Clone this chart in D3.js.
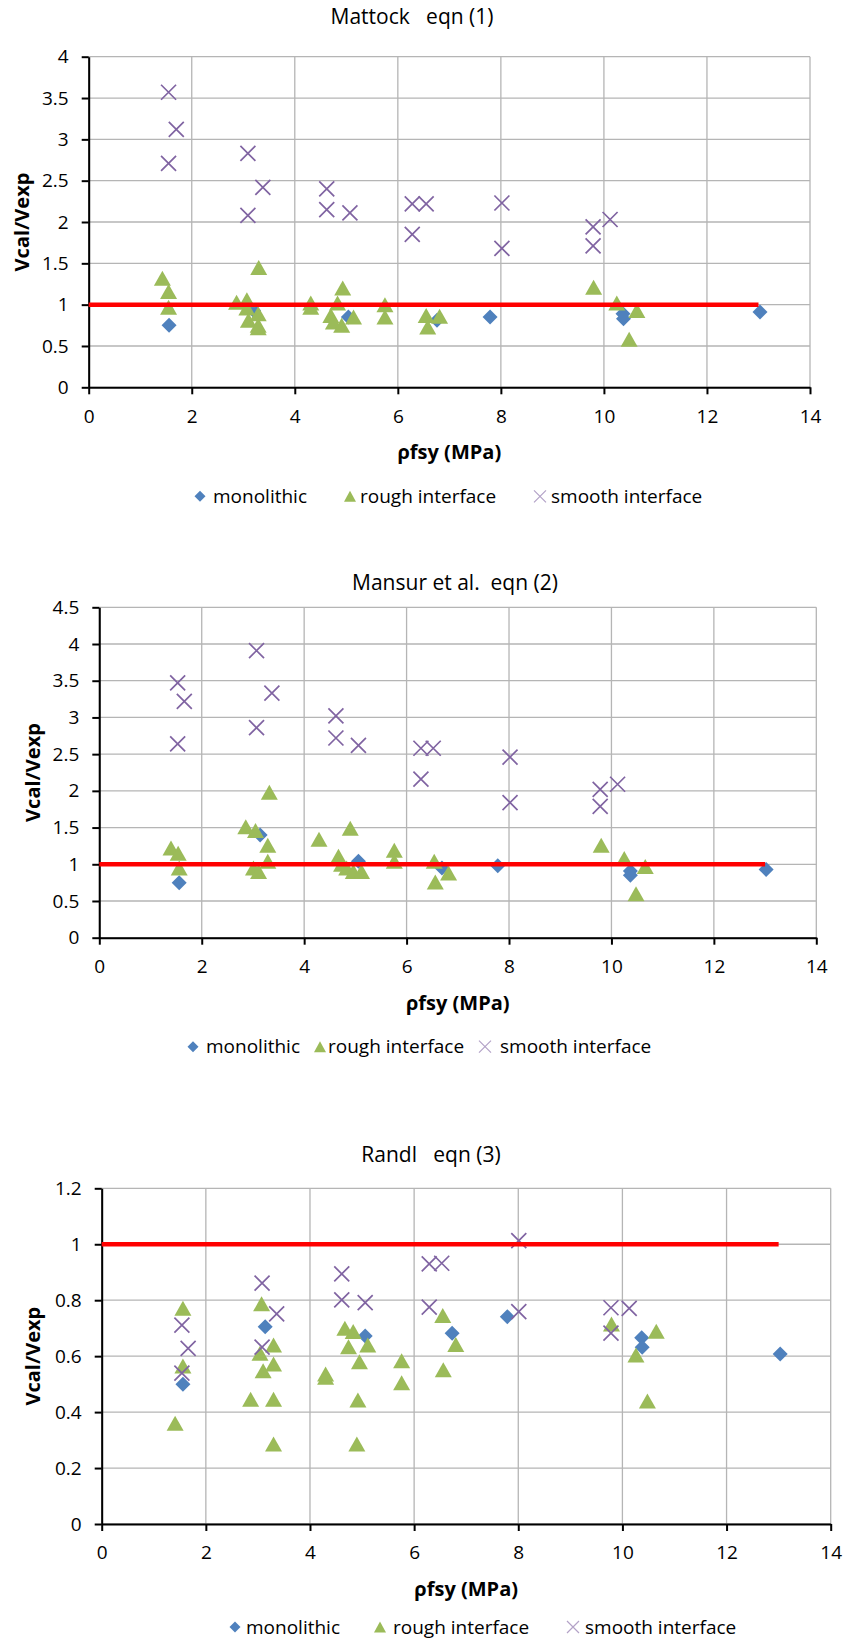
<!DOCTYPE html>
<html>
<head>
<meta charset="utf-8">
<script src="https://cdn.jsdelivr.net/npm/d3@7"></script>
<style>
body { margin: 0; background: #fff; }
svg text { font-family: "Open Sans", sans-serif; fill: #000; }
.axis path, .axis line { stroke: #000; stroke-width: 2; }
.axis text { font-size: 19px; }
</style>
</head>
<body>
<div id="chart"></div>
<script>
// shared
var xTicks = [0, 2, 4, 6, 8, 10, 12, 14];
var legendLabels = ['monolithic', 'rough interface', 'smooth interface'];
var xTitle = 'ρfsy (MPa)';
var yTitle = 'Vcal/Vexp';
var refLine = [[0, 1], [13, 1]];

// Mattock eqn (1)
var mattockTitle = 'Mattock   eqn (1)';
var mattockYTicks = [0, 0.5, 1, 1.5, 2, 2.5, 3, 3.5, 4];
var mattockMono = [[1.56,0.75],[3.2,0.93],[5.04,0.85],[6.76,0.81],[7.79,0.85],[10.37,0.89],[10.38,0.83],[13.03,0.91]];
var mattockRough = [[1.43,1.32],[1.55,1.16],[1.55,0.97],[2.87,1.03],[3.07,1.06],[3.07,0.96],[3.10,0.81],[3.29,0.89],
  [3.29,0.75],[3.29,0.72],[3.30,1.45],[4.31,1.02],[4.31,0.97],[4.93,1.20],[4.83,1.02],[4.70,0.87],[4.75,0.79],
  [4.91,0.75],[5.14,0.85],[5.75,1.00],[5.75,0.85],[6.55,0.87],[6.58,0.73],[6.81,0.86],[9.80,1.21],[10.25,1.02],
  [10.64,0.93],[10.49,0.58]];
var mattockSmooth = [[1.55,3.57],[1.70,3.12],[1.55,2.71],[3.09,2.83],[3.09,2.08],[3.38,2.42],[4.62,2.40],[4.62,2.15],
  [5.07,2.11],[6.28,2.22],[6.55,2.22],[6.28,1.85],[8.02,2.23],[8.02,1.68],[9.79,1.94],[9.79,1.71],[10.12,2.03]];

// Mansur et al. eqn (2)
var mansurTitle = 'Mansur et al.  eqn (2)';
var mansurYTicks = [0, 0.5, 1, 1.5, 2, 2.5, 3, 3.5, 4, 4.5];
var mansurMono = [[1.56,0.75],[3.14,1.40],[5.06,1.04],[6.69,0.95],[7.78,0.98],[10.37,0.91],[10.37,0.85],[13.02,0.93]];
var mansurRough = [[1.40,1.22],[1.54,1.15],[1.56,0.95],[2.86,1.51],[3.05,1.46],[3.01,0.95],[3.11,0.90],[3.32,1.98],
  [3.29,1.26],[3.29,1.04],[4.29,1.34],[4.90,1.49],[4.67,1.11],[4.73,1.00],[4.83,0.95],[4.96,0.90],[5.12,0.90],
  [5.76,1.19],[5.76,1.04],[6.54,1.04],[6.56,0.76],[6.82,0.88],[9.80,1.26],[10.25,1.08],[10.66,0.97],[10.48,0.60]];
var mansurSmooth = [[1.53,3.47],[1.66,3.22],[1.53,2.64],[3.07,3.91],[3.07,2.86],[3.37,3.33],[4.62,3.02],[4.62,2.72],
  [5.06,2.62],[6.28,2.58],[6.52,2.58],[6.28,2.16],[8.02,2.46],[8.02,1.84],[9.78,2.02],[9.78,1.79],[10.12,2.09]];

// Randl eqn (3)
var randlTitle = 'Randl   eqn (3)';
var randlYTicks = [0, 0.2, 0.4, 0.6, 0.8, 1, 1.2];
var randlMono = [[1.56,0.50],[3.14,0.705],[5.06,0.672],[6.73,0.682],[7.79,0.741],[10.37,0.666],[10.38,0.632],[13.03,0.608]];
var randlRough = [[1.56,0.771],[1.56,0.565],[1.41,0.36],[3.07,0.787],[3.04,0.61],[3.10,0.548],[3.30,0.64],[3.30,0.572],
  [3.30,0.446],[3.30,0.286],[2.86,0.446],[4.30,0.536],[4.30,0.525],[4.67,0.70],[4.83,0.688],[4.74,0.634],[5.11,0.64],
  [4.95,0.58],[4.92,0.443],[4.90,0.286],[5.76,0.584],[5.76,0.505],[6.55,0.745],[6.80,0.642],[6.56,0.551],[9.79,0.715],
  [10.26,0.604],[10.65,0.689],[10.48,0.44]];
var randlSmooth = [[1.54,0.711],[1.66,0.628],[1.54,0.539],[3.08,0.861],[3.08,0.632],[3.36,0.751],[4.61,0.894],[4.61,0.801],
  [5.06,0.791],[6.29,0.93],[6.53,0.932],[6.29,0.775],[8.01,1.013],[8.01,0.759],[9.78,0.773],[9.78,0.682],[10.13,0.771]];

var blue = '#4f81bd', green = '#9bbb59', purple = '#8064a2';

var svg = d3.select('#chart').append('svg').attr('width', 846).attr('height', 1643);

function diamond(r) { return 'M0,' + (-r) + 'L' + r + ',0L0,' + r + 'L' + (-r) + ',0Z'; }
function triangle(w, h) { return 'M0,' + (-h/2) + 'L' + (w/2) + ',' + (h/2) + 'L' + (-w/2) + ',' + (h/2) + 'Z'; }
function cross(r) { return 'M' + (-r) + ',' + (-r) + 'L' + r + ',' + r + 'M' + (-r) + ',' + r + 'L' + r + ',' + (-r); }

function drawChart(c) {
  var g = svg.append('g');
  var x = d3.scaleLinear().domain([0, 14]).range([c.left, c.right]);
  var y = d3.scaleLinear().domain([0, d3.max(c.yTicks)]).range([c.bottom, c.top]);

  // gridlines
  g.selectAll('.hg').data(c.yTicks).enter().append('line')
    .attr('x1', c.left).attr('x2', c.right).attr('y1', d => y(d)).attr('y2', d => y(d))
    .attr('stroke', '#b5b5b5').attr('stroke-width', 1.3);
  g.selectAll('.vg').data(xTicks).enter().append('line')
    .attr('y1', c.top).attr('y2', c.bottom).attr('x1', d => x(d)).attr('x2', d => x(d))
    .attr('stroke', '#b5b5b5').attr('stroke-width', 1.3);

  var fmt = d => String(+d.toFixed(2));
  g.append('g').attr('class', 'axis').attr('transform', 'translate(0,' + c.bottom + ')')
    .call(d3.axisBottom(x).tickValues(xTicks).tickFormat(fmt).tickSizeInner(7).tickSizeOuter(0).tickPadding(15));
  g.append('g').attr('class', 'axis').attr('transform', 'translate(' + c.left + ',0)')
    .call(d3.axisLeft(y).tickValues(c.yTicks).tickFormat(fmt).tickSizeInner(7).tickSizeOuter(0).tickPadding(13));
  g.selectAll('.axis').attr('font-family', null).attr('font-size', null);

  // series
  g.selectAll('.mono').data(c.mono).enter().append('path')
    .attr('d', diamond(7.5)).attr('fill', blue)
    .attr('transform', d => 'translate(' + x(d[0]) + ',' + y(d[1]) + ')');
  g.selectAll('.rough').data(c.rough).enter().append('path')
    .attr('d', triangle(17, 15)).attr('fill', green)
    .attr('transform', d => 'translate(' + x(d[0]) + ',' + y(d[1]) + ')');
  g.selectAll('.smooth').data(c.smooth).enter().append('path')
    .attr('d', cross(7.5)).attr('fill', 'none').attr('stroke', purple).attr('stroke-width', 1.7)
    .attr('transform', d => 'translate(' + x(d[0]) + ',' + y(d[1]) + ')');
  g.append('path').datum(refLine)
    .attr('d', d3.line().x(d => x(d[0])).y(d => y(d[1])))
    .attr('stroke', '#ff0000').attr('stroke-width', 4.5).attr('fill', 'none');

  // titles
  g.append('text').text(c.title).attr('x', c.titleX).attr('y', c.titleY).attr('dy', '0.35em')
    .attr('text-anchor', 'middle').attr('font-size', 21).style('white-space', 'pre');
  g.append('text').text(xTitle).attr('x', (c.left + c.right) / 2).attr('y', c.bottom + 65).attr('dy', '0.35em')
    .attr('text-anchor', 'middle').attr('font-size', 20).attr('font-weight', 'bold');
  g.append('text').text(yTitle)
    .attr('transform', 'translate(' + c.yTitleX + ',' + ((c.top + c.bottom) / 2) + ') rotate(-90)')
    .attr('dy', '0.35em').attr('text-anchor', 'middle').attr('font-size', 20).attr('font-weight', 'bold');

  // legend
  var lg = g.append('g').attr('transform', 'translate(0,' + (c.bottom + c.legendGap) + ')');
  lg.append('path').attr('d', diamond(5.5)).attr('fill', blue).attr('transform', 'translate(' + c.legend[0] + ',0)');
  lg.append('path').attr('d', triangle(12, 11)).attr('fill', green).attr('transform', 'translate(' + c.legend[2] + ',0)');
  lg.append('path').attr('d', cross(6)).attr('fill', 'none').attr('stroke', '#b3a2c7').attr('stroke-width', 1.2)
    .attr('transform', 'translate(' + c.legend[4] + ',0)');
  legendLabels.forEach(function(t, i) {
    lg.append('text').text(t).attr('x', c.legend[i * 2 + 1]).attr('y', 0).attr('dy', '0.35em').attr('font-size', 19);
  });
}

drawChart({ title: mattockTitle, titleX: 412, titleY: 17, yTicks: mattockYTicks,
  left: 88.7, right: 810, top: 56.7, bottom: 387.3, yTitleX: 22, legendGap: 109,
  mono: mattockMono, rough: mattockRough, smooth: mattockSmooth,
  legend: [200, 213, 350, 360, 540, 551] });
drawChart({ title: mansurTitle, titleX: 455, titleY: 583, yTicks: mansurYTicks,
  left: 99.3, right: 816.3, top: 607.3, bottom: 937.7, yTitleX: 33, legendGap: 109,
  mono: mansurMono, rough: mansurRough, smooth: mansurSmooth,
  legend: [193, 206, 320, 328, 485, 500] });
drawChart({ title: randlTitle, titleX: 431, titleY: 1155, yTicks: randlYTicks,
  left: 101.7, right: 830.7, top: 1188.3, bottom: 1524, yTitleX: 33, legendGap: 103,
  mono: randlMono, rough: randlRough, smooth: randlSmooth,
  legend: [235, 246, 380, 393, 573, 585] });
</script>
</body>
</html>
